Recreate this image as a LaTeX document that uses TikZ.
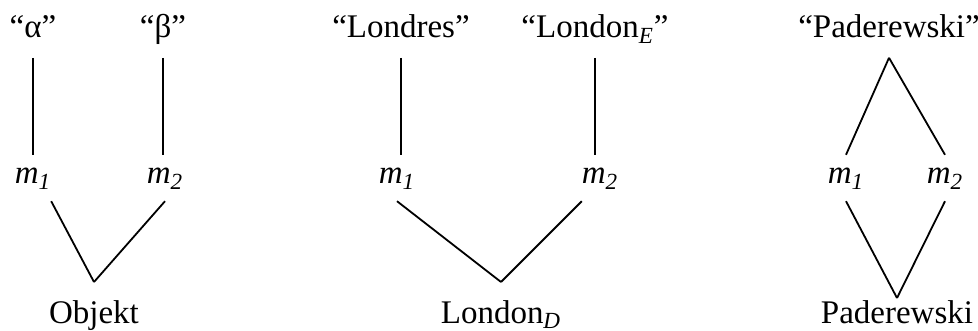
\documentclass[tikz,border=0pt]{standalone}
\usepackage{fontspec}
\setmainfont{Liberation Serif}
\usepackage{tikz}

\begin{document}
\begin{tikzpicture}[x=0.5pt,y=-0.5pt,line width=0.9pt,
	every node/.style={font=\fontsize{16.5}{19.8}\selectfont,inner sep=0pt,outer sep=0pt},
	word node/.style={anchor=base,text depth=9.9pt},
	m node/.style={anchor=base,text height=14.6pt,text depth=8.6pt},
	low node/.style={anchor=base,text height=20.5pt}]
	
	\useasboundingbox (0,0) rectangle (978,331);
	
	% names
	\node[word node] (A) at (33,38) {“α”};
	\node[word node] (B) at (163,38) {“β”};
	\node[word node] (C) at (401,38) {“Londres”};
	\node[word node] (D) at (595,38) {“London\textsubscript{\textit{E}}”};
	\node[word node] (E) at (889,38) {“Paderewski”};
	
	% modes of presentation
	\node[m node] (F) at (33,184) {\textit{m\textsubscript{1}}};
	\node[m node] (G) at (165,184) {\textit{m\textsubscript{2}}};
	\node[m node] (H) at (397,184) {\textit{m\textsubscript{1}}};
	\node[m node] (I) at (600,184) {\textit{m\textsubscript{2}}};
	\node[m node] (J) at (846,184) {\textit{m\textsubscript{1}}};
	\node[m node] (K) at (945,184) {\textit{m\textsubscript{2}}};
	
	% objects
	\node[low node] (L) at (94,323) {Objekt};
	\node[low node] (M) at (501,323) {London\textsubscript{\textit{D}}};
	\node[low node,text height=12.5pt] (N) at (897,323) {Paderewski};
	
	\path
	(A.south) edge (A.south |- F.north)
	(B.south) edge (B.south |- G.north)
	(C.south) edge (C.south |- H.north)
	(D.south) edge (D.south |- I.north)
	(E.south) edge (J.north)
	(E.south) edge (K.north)
	(F.south east) edge (L.north)
	(G.south) edge (L.north)
	(H.south) edge (M.north)
	(I.south west) edge (M.north)
	(J.south) edge (N.north)
	(K.south) edge (N.north);
\end{tikzpicture}
\end{document}
